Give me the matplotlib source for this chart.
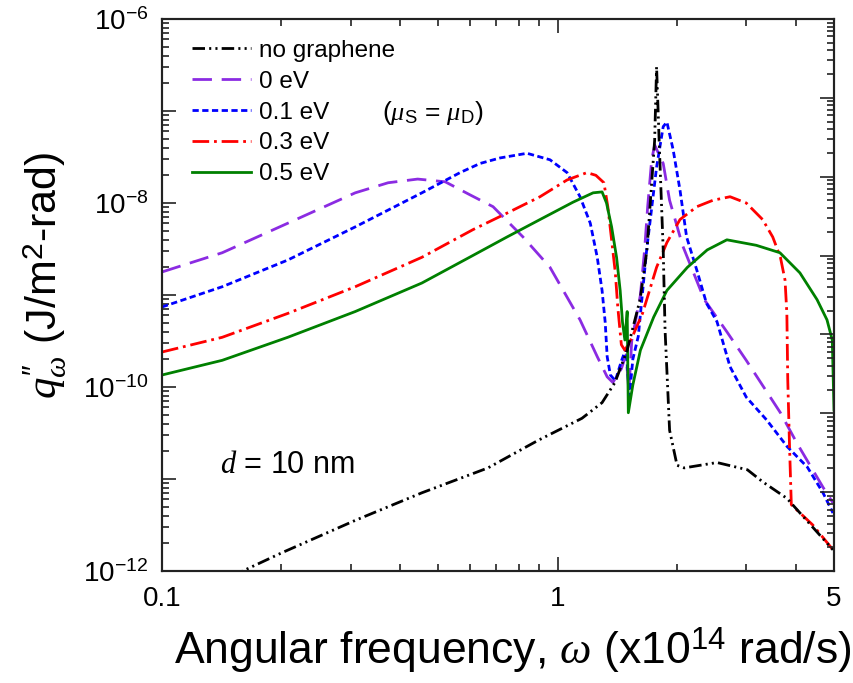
import matplotlib
matplotlib.use('Agg')
import matplotlib.pyplot as plt
from matplotlib.ticker import FixedLocator, FixedFormatter, NullFormatter, LogLocator, FuncFormatter
import numpy as np

plt.rcParams['font.family'] = ['Liberation Sans', 'DejaVu Sans']
plt.rcParams['mathtext.fontset'] = 'custom'
plt.rcParams['mathtext.rm'] = 'Liberation Sans'
plt.rcParams['mathtext.it'] = 'Liberation Serif:italic'
plt.rcParams['mathtext.bf'] = 'Liberation Sans:bold'
plt.rcParams['mathtext.sf'] = 'Liberation Sans'
plt.rcParams['lines.scale_dashes'] = False

# ---------------- data (x in 1e14 rad/s, q in J/m^2-rad) ----------------
labels = ['no graphene', '0 eV', '0.1 eV', '0.3 eV', '0.5 eV']

x_none = [0.15, 0.16, 0.201, 0.308, 0.454, 0.667, 0.893, 1.153, 1.296, 1.397, 1.50,
          1.617, 1.683, 1.73, 1.76, 1.78, 1.81, 1.85, 1.87, 1.92, 2.005, 2.09,
          2.53, 3.02, 3.30, 3.80, 4.97]
q_none = [8.7e-13, 1.0e-12, 1.58e-12, 3.55e-12, 7.08e-12, 1.32e-11, 2.63e-11, 4.57e-11,
          6.76e-11, 1.12e-10, 2.51e-10, 8.91e-10, 3.09e-9, 1.66e-8, 4.79e-8, 3.02e-7,
          3.80e-8, 3.09e-9, 4.17e-10, 3.39e-11, 1.41e-11, 1.32e-11, 1.51e-11, 1.26e-11,
          9.33e-12, 6.17e-12, 1.70e-12]

x_0eV = [0.1, 0.142, 0.208, 0.308, 0.373, 0.443, 0.52, 0.60, 0.687, 0.818, 0.957, 1.14,
         1.26, 1.335, 1.38, 1.45, 1.49, 1.515, 1.54, 1.58, 1.62, 1.66, 1.69, 1.73, 1.76,
         1.85, 1.92, 2.07, 2.35, 2.68, 3.0, 3.66, 4.03, 4.69, 4.97]
q_0eV = [1.78e-9, 2.88e-9, 6.03e-9, 1.29e-8, 1.66e-8, 1.82e-8, 1.70e-8, 1.23e-8, 9.12e-9,
         4.27e-9, 2.0e-9, 5.37e-10, 2.14e-10, 1.29e-10, 1.12e-10, 1.58e-10, 2.24e-10,
         8.91e-11, 3.16e-10, 5.62e-10, 1.0e-9, 3.09e-9, 9.12e-9, 2.95e-8, 4.27e-8, 2.69e-8,
         1.07e-8, 3.47e-9, 8.91e-10, 3.98e-10, 1.95e-10, 5.25e-11, 2.45e-11, 8.13e-12,
         5.50e-12]

x_01eV = [0.1, 0.142, 0.208, 0.308, 0.454, 0.567, 0.637, 0.716, 0.837, 0.957, 1.057, 1.14,
          1.21, 1.26, 1.296, 1.32, 1.335, 1.36, 1.40, 1.45, 1.49, 1.52, 1.55, 1.60, 1.68,
          1.78, 1.85, 1.89, 1.96, 2.04, 2.12, 2.25, 2.38, 2.53, 2.73, 3.0, 3.38, 3.81,
          4.28, 4.69, 4.97]
q_01eV = [7.41e-10, 1.23e-9, 2.40e-9, 5.50e-9, 1.29e-8, 2.14e-8, 2.69e-8, 3.09e-8, 3.47e-8,
          2.95e-8, 2.14e-8, 1.17e-8, 6.03e-9, 2.57e-9, 1.12e-9, 5.01e-10, 2.14e-10,
          1.35e-10, 1.17e-10, 1.91e-10, 2.63e-10, 7.94e-11, 2.0e-10, 3.55e-10, 3.09e-9,
          2.45e-8, 6.76e-8, 7.59e-8, 3.80e-8, 1.38e-8, 4.27e-9, 1.86e-9, 8.13e-10,
          5.13e-10, 1.66e-10, 7.76e-11, 4.37e-11, 2.24e-11, 1.35e-11, 7.08e-12, 4.27e-12]

x_03eV = [0.1, 0.142, 0.208, 0.308, 0.454, 0.611, 0.745, 0.903, 1.057, 1.187, 1.25, 1.31,
          1.34, 1.37, 1.40, 1.42, 1.45, 1.48, 1.54, 1.64, 1.78, 1.89, 2.04, 2.25, 2.47,
          2.73, 3.0, 3.3, 3.5, 3.66, 3.76, 3.8, 3.82, 3.86, 3.9, 4.42, 4.97]
q_03eV = [2.40e-10, 3.47e-10, 6.31e-10, 1.23e-9, 2.57e-9, 5.13e-9, 7.76e-9, 1.17e-8,
          1.78e-8, 2.14e-8, 2.0e-8, 1.66e-8, 9.12e-9, 3.98e-9, 1.74e-9, 7.41e-10,
          2.88e-10, 2.51e-10, 3.39e-10, 6.31e-10, 2.0e-9, 3.72e-9, 6.61e-9, 9.12e-9,
          1.07e-8, 1.17e-8, 1.0e-8, 6.61e-9, 4.27e-9, 2.57e-9, 1.45e-9, 6.31e-10,
          1.20e-10, 2.24e-11, 5.25e-12, 3.16e-12, 1.70e-12]

x_05eV = [0.1, 0.142, 0.208, 0.308, 0.454, 0.611, 0.745, 0.903, 1.094, 1.23, 1.296, 1.33,
          1.37, 1.41, 1.44, 1.46, 1.48, 1.50, 1.51, 1.55, 1.62, 1.75, 1.89, 2.13, 2.39,
          2.68, 3.18, 3.65, 4.10, 4.53, 4.80, 4.95, 5.0]
q_05eV = [1.35e-10, 1.95e-10, 3.47e-10, 6.61e-10, 1.35e-9, 2.69e-9, 4.27e-9, 6.61e-9,
          1.02e-8, 1.29e-8, 1.32e-8, 1.0e-8, 5.50e-9, 2.57e-9, 1.12e-9, 5.01e-10,
          3.24e-10, 6.61e-10, 5.25e-11, 1.05e-10, 2.51e-10, 5.75e-10, 1.12e-9, 2.0e-9,
          3.09e-9, 3.98e-9, 3.47e-9, 2.88e-9, 1.74e-9, 8.91e-10, 5.37e-10, 3.24e-10,
          5.62e-11]

x_major = [0.1, 1, 5]
x_major_labels = ['0.1', '1', '5']
x_minor = [0.2, 0.3, 0.4, 0.5, 0.6, 0.7, 0.8, 0.9, 2, 3, 4]

# ---------------- figure ----------------
W, H = 854, 683
fig = plt.figure(figsize=(W / 100, H / 100), dpi=100)
L, R, T, B = 162, 834, 19, 571
ax = fig.add_axes([L / W, 1 - B / H, (R - L) / W, (B - T) / H])
ax.set_xscale('log')
ax.set_yscale('log')

styles = [
    dict(color='black', ls=(0, (9, 3, 1.5, 3, 1.5, 3)), lw=2.0, zorder=6),
    dict(color='#8B2BE2', ls=(0, (14, 7)), lw=2.0, zorder=2),
    dict(color='#0000FF', ls=(0, (4.5, 2.5)), lw=2.0, zorder=3),
    dict(color='#FF0000', ls=(0, (12, 3.5, 2, 3.5)), lw=2.0, zorder=4),
    dict(color='#008000', ls='-', lw=2.0, zorder=5),
]
series = [(x_none, q_none), (x_0eV, q_0eV), (x_01eV, q_01eV), (x_03eV, q_03eV), (x_05eV, q_05eV)]
for (xs, qs), lab, st in zip(series, labels, styles):
    ax.plot(xs, qs, label=lab, **st)

ax.set_xlim(0.1, 5)
ax.set_ylim(1e-12, 1e-6)

ax.xaxis.set_major_locator(FixedLocator(x_major))
ax.xaxis.set_major_formatter(FixedFormatter(x_major_labels))
ax.xaxis.set_minor_locator(FixedLocator(x_minor))
ax.xaxis.set_minor_formatter(NullFormatter())

ax.yaxis.set_major_locator(FixedLocator(10.0 ** np.arange(-12, -5)))


def yfmt(v, pos):
    e = int(round(np.log10(v)))
    if e % 2 == 0:
        return r'$\mathregular{10^{%d}}$' % e
    return ''


ax.yaxis.set_major_formatter(FuncFormatter(yfmt))
ax.yaxis.set_minor_locator(LogLocator(base=10, subs=np.arange(2, 10), numticks=30))
ax.yaxis.set_minor_formatter(NullFormatter())

ax.tick_params(which='both', direction='in', top=True, right=False, width=1.2,
               labelsize=20, colors='#222222', labelcolor='black')
ax.tick_params(which='major', length=10)
ax.tick_params(which='minor', length=5)
ax.tick_params(axis='y', pad=10)
ax.tick_params(axis='x', pad=11)
for s in ax.spines.values():
    s.set_linewidth(1.5)
    s.set_color('#222222')

# right axis (separate log scale, unlabeled)
ax2 = ax.twinx()
ax2.set_yscale('log')
ax2.set_ylim(1e-13, 1e-6)
ax2.yaxis.set_major_locator(LogLocator(base=10, numticks=30))
ax2.yaxis.set_minor_locator(LogLocator(base=10, subs=np.arange(2, 10), numticks=30))
ax2.yaxis.set_major_formatter(NullFormatter())
ax2.yaxis.set_minor_formatter(NullFormatter())
ax2.tick_params(which='both', direction='in', width=1.2, colors='#222222')
ax2.tick_params(which='major', length=10)
ax2.tick_params(which='minor', length=5)
for s in ax2.spines.values():
    s.set_linewidth(1.5)
    s.set_color('#222222')

ax.set_xlabel(r'Angular frequency, $\omega$ (x10$^{\mathregular{14}}$ rad/s)', fontsize=32)
ax.xaxis.set_label_coords((513 - L) / (R - L), (B - 650) / (B - T))
ax.xaxis.label.set_verticalalignment('center')

ax.set_ylabel(r"$q^{\prime\prime}_{\omega}$ (J/m$^{\mathregular{2}}$-rad)", fontsize=31)
ax.yaxis.set_label_coords((45 - L) / (R - L), (B - 275) / (B - T))
ax.yaxis.label.set_verticalalignment('center')

ax.legend(loc='upper left', bbox_to_anchor=(0.045, 0.962), frameon=False, fontsize=17.5,
          handlelength=2.4, handletextpad=0.35, labelspacing=0.36, borderpad=0,
          borderaxespad=0)

fig.text(433 / W, 1 - 113 / H, r'($\mu_{\mathregular{S}}$ = $\mu_{\mathregular{D}}$)',
         fontsize=19, ha='center', va='center')
fig.text(220 / W, 1 - 465 / H, r'$d$ = 10 nm', fontsize=22, ha='left', va='center')

fig.savefig('out.png', dpi=100)
